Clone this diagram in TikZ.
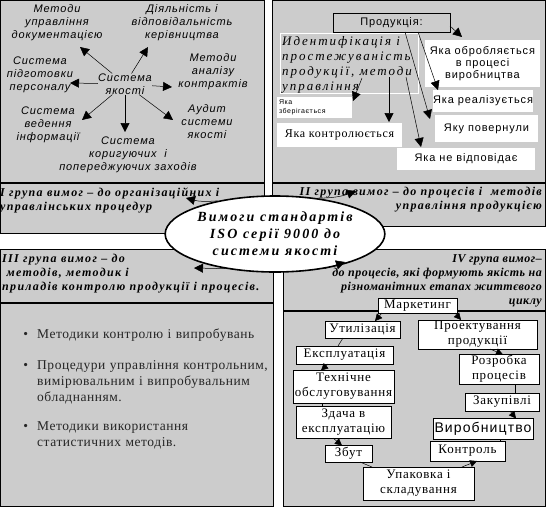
\documentclass[tikz,border=0pt]{standalone}
\usepackage{fontspec}
\setmainfont{Liberation Serif}
\newfontfamily\AS[LetterSpace=8]{Liberation Sans}
\newfontfamily\TS[LetterSpace=6]{Liberation Serif}
\newfontfamily\TT[LetterSpace=11]{Liberation Serif}
\newfontfamily\TF[LetterSpace=4]{Liberation Serif}
\newfontfamily\TW[LetterSpace=15]{Liberation Serif}
\usetikzlibrary{arrows.meta,shapes.geometric}
\definecolor{pgray}{gray}{0.8}
\tikzset{
 panel/.style={draw=black, line width=0.8pt, fill=pgray},
 sepline/.style={line width=1.6pt},
 tl/.style={font=\AS\itshape\fontsize{11}{13}\selectfont, align=center, inner sep=0pt},
 ar/.style={line width=0.5pt, -{Triangle[length=9pt,width=9pt]}},
 ars/.style={line width=0.5pt, -{Triangle[length=7pt,width=7pt]}},
 wbox/.style={draw=none, fill=white, inner sep=0pt, align=center},
 lc/.style={draw=black, line width=0.6pt, fill=white, inner sep=0pt, align=center, font=\TS\fontsize{13}{15}\selectfont},
 ttl/.style={font=\TT\bfseries\itshape\fontsize{12}{14}\selectfont, inner sep=0pt},
 ttlf/.style={font=\TF\bfseries\itshape\fontsize{12}{14.3}\selectfont, inner sep=0pt},
 ln/.style={line width=0.5pt},
 bul/.style={anchor=north west, align=left, inner sep=0pt, text width=240, font=\TF\fontsize{13.5}{16}\selectfont, text=black!85},
}
\begin{document}
\begin{tikzpicture}[x=1pt,y=-1pt]
\useasboundingbox (0,0) rectangle (546,509);
% panels
\draw[panel] (0.5,0.5) rectangle (264,233);
\draw[sepline] (0.5,183) -- (264,183);
\draw[panel] (272,0.5) rectangle (545.5,226);
\draw[sepline] (272,183) -- (545.5,183);
\draw[panel] (0.5,249) rectangle (273,506);
\draw[sepline] (0.5,303) -- (273,303);
\draw[panel] (283,249) rectangle (545.5,506);
\draw[sepline] (283,311) -- (545.5,311);

% top-left
\node[tl] (sys) at (125,84) {Система\\якості};
\node[tl] (mud) at (57,23) {Методи\\управління\\документацією};
\node[tl] (dvk) at (182,23) {Діяльність і\\відповідальність\\керівництва};
\node[tl] (mak) at (213,72) {Методи\\аналізу\\контрактів};
\node[tl] (spp) at (40,75) {Система\\підготовки\\персоналу};
\node[tl] (svi) at (48,125) {Система\\ведення\\інформації};
\node[tl] (skz) at (128,155) {Система\\коригуючих~~і\\попереджуючих заходів};
\node[tl] (asy) at (207,122) {Аудит\\системи\\якості};
\coordinate (t1) at (80,47);
\coordinate (t2) at (148,47);
\coordinate (t3) at (172,87);
\coordinate (t4) at (70,83);
\coordinate (t5) at (82,120);
\coordinate (t6) at (125,132);
\coordinate (t7) at (173,120);
\foreach \t in {t1,t2,t3,t4,t5,t6,t7} \draw[ar] (sys) -- (\t);
\node[ttl, anchor=north west, align=left] (ttl1) at (0,188) {І група вимог – до організаційних і\\управлінських процедур};

% top-right
\node[draw=black, line width=0.6pt, fill=pgray, minimum width=117, minimum height=19, font=\AS\fontsize{11}{13}\selectfont] (prod) at (391.5,22.5) {Продукція:};
\begin{scope}
\clip (280,33) rectangle (418,93);
\node[anchor=north west, align=left, inner sep=0pt, font=\TW\itshape\fontsize{13}{15}\selectfont] (ident) at (282,36) {Идентифікація і\\простежуваність\\продукції, методи\\управління};
\end{scope}
\draw[white, line width=0.8pt] (280,33) rectangle (418,93);
\node[wbox, minimum width=115, minimum height=47, font=\AS\fontsize{11}{12}\selectfont] (obr) at (482.5,63.5) {Яка обробляється\\в процесі\\виробництва};
\node[wbox, minimum width=100, minimum height=22, font=\AS\fontsize{11}{13}\selectfont] (real) at (483,101) {Яка реалізується};
\node[wbox, minimum width=75, minimum height=21, font=\AS\fontsize{7}{9}\selectfont, align=left, text width=71] (zber) at (314.5,107.5) {Яка\\зберігається};
\node[wbox, minimum width=125, minimum height=24, font=\TS\fontsize{12}{14}\selectfont] (kontr) at (339.5,135) {Яка контролюється};
\node[wbox, minimum width=103, minimum height=27, font=\AS\fontsize{11}{13}\selectfont] (pov) at (486.5,128.5) {Яку повернули};
\node[wbox, minimum width=138, minimum height=22, font=\AS\fontsize{11}{13}\selectfont] (nev) at (466,159) {Яка не відповідає};
\coordinate (pa) at (450,26);
\coordinate (pb) at (405,32);
\coordinate (pc) at (418,32);
\coordinate (pd) at (406,77);
\coordinate (ia) at (362,78);
\coordinate (ib) at (389,77);
\draw[ar] (pa) -- (462,37) coordinate (ea);
\draw[ar] (pb) -- (430,119) coordinate (eb);
\draw[ar] (pc) -- (438,90) coordinate (ec);
\draw[ar] (pd) -- (421,147) coordinate (ed);
\draw[ar] (ia) -- (353,101) coordinate (ee);
\draw[ar] (ib) -- (389,122) coordinate (ef);
\node[ttl, anchor=north east, align=right] (ttl2) at (542,187) {ІІ група вимог – до процесів і~~методів\\управління продукцією};

% bottom-left
\node[ttl, anchor=north west, align=left] (ttl3) at (2,254) {ІІІ група вимог – до\\~методів, методик і\\приладів контролю продукції і процесів.};
\node[bul] (b1) at (37,329) {\llap{\textbullet\hspace{9pt}}Методики контролю і випробувань};
\node[bul] (b2) at (37,360) {\llap{\textbullet\hspace{9pt}}Процедури управління контрольним,\\вимірювальним і випробувальним\\обладнанням.};
\node[bul] (b3) at (37,421) {\llap{\textbullet\hspace{9pt}}Методики використання\\статистичних~методів.};

% bottom-right
\node[ttlf, anchor=north east, align=right] (ttl4) at (542,254) {IV група вимог–\\до процесів, які формують якість на\\різноманітних етапах життєвого\\циклу};
\node[lc, minimum width=79, minimum height=15] (mark) at (417.5,305.5) {Маркетинг};
\node[lc, minimum width=75, minimum height=17] (util) at (362.5,329.5) {Утилізація};
\node[lc, minimum width=119, minimum height=29] (proj) at (477.5,334.5) {Проектування\\продукції};
\node[lc, minimum width=97, minimum height=18] (expl) at (344.5,355) {Експлуатація};
\node[lc, minimum width=80, minimum height=30] (rozr) at (499,369) {Розробка\\процесів};
\node[lc, minimum width=101, minimum height=33] (tech) at (343.5,386.5) {Технічне\\обслуговування};
\node[lc, minimum width=74, minimum height=18] (zak) at (502,402) {Закупівлі};
\node[lc, minimum width=95, minimum height=32] (zdach) at (343.5,422) {Здача в\\експлуатацію};
\node[lc, minimum width=100, minimum height=21, font=\AS\fontsize{14}{16}\selectfont] (vyr) at (483,428.5) {Виробництво};
\node[lc, minimum width=47, minimum height=17] (zbut) at (348.5,453.5) {Збут};
\node[lc, minimum width=75, minimum height=20] (kon) at (467.5,451) {Контроль};
\node[lc, minimum width=111, minimum height=33] (upak) at (418.5,483.5) {Упаковка і\\складування};
\draw[ars] (455,313) -- (461,320);
\draw[ars] (382,313) -- (375,321);
\draw[ln] (343,338) -- (338,346);
\draw[ars] (328,364) -- (321,370.5);
\draw[ln] (322,403) -- (322,406);
\draw[ars] (333,438) -- (342,445.5);
\draw[ln] (360,462) -- (372,467);
\draw[ars] (462,467) -- (477,461);
\draw[ln] (500,441) -- (500,439);
\draw[ars] (510,411) -- (516,418.5);
\draw[ln] (515,384) -- (515,393);
\draw[ars] (490,349) -- (503,354.5);

% ellipse
\node[ellipse, draw=black, line width=1.6pt, fill=white, minimum width=204, minimum height=76, inner sep=0pt, align=center, font=\TW\bfseries\itshape\fontsize{14}{17}\selectfont] (iso) at (275,234) {Вимоги стандартів\\ISO серії 9000 до\\системи якості};
\draw[ar] (iso.150) to[bend left=10] (186,198);
\draw[ar] (iso.40) to[bend right=10] (356,191);
\draw[ar] (iso.215) -- (194,268);
\draw[ar] (iso.-35) -- (345,262);
\end{tikzpicture}
\end{document}
